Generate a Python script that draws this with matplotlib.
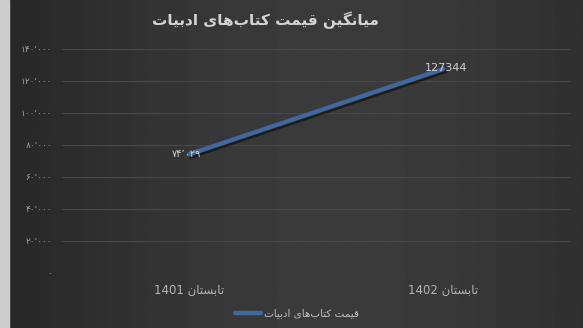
import numpy as np
import matplotlib
matplotlib.use("Agg")
import matplotlib.pyplot as plt
import matplotlib.patheffects as pe
from matplotlib.lines import Line2D

# data
seasons = ["تابستان", "تابستان"]
years = ["1401", "1402"]
prices = [74029, 127344]
price_labels = ["۷۴٬۰۲۹", "127344"]
yticks = [0, 20000, 40000, 60000, 80000, 100000, 120000, 140000]
ytick_labels = ["۰", "۲۰٬۰۰۰", "۴۰٬۰۰۰", "۶۰٬۰۰۰", "۸۰٬۰۰۰",
                "۱۰۰٬۰۰۰", "۱۲۰٬۰۰۰", "۱۴۰٬۰۰۰"]
title = "میانگین قیمت کتاب\u200cهای ادبیات"
series_name = "قیمت کتاب\u200cهای ادبیات"

# minimal arabic shaping: isolated, final, initial, medial
FORMS = {
    "ا": ("\uFE8D", "\uFE8E", None, None),
    "ب": ("\uFE8F", "\uFE90", "\uFE91", "\uFE92"),
    "ت": ("\uFE95", "\uFE96", "\uFE97", "\uFE98"),
    "د": ("\uFEA9", "\uFEAA", None, None),
    "س": ("\uFEB1", "\uFEB2", "\uFEB3", "\uFEB4"),
    "ق": ("\uFED5", "\uFED6", "\uFED7", "\uFED8"),
    "م": ("\uFEE1", "\uFEE2", "\uFEE3", "\uFEE4"),
    "ن": ("\uFEE5", "\uFEE6", "\uFEE7", "\uFEE8"),
    "ه": ("\uFEE9", "\uFEEA", "\uFEEB", "\uFEEC"),
    "ی": ("\uFBFC", "\uFBFD", "\uFBFE", "\uFBFF"),
    "ک": ("\uFB8E", "\uFB8F", "\uFB90", "\uFB91"),
    "گ": ("\uFB92", "\uFB93", "\uFB94", "\uFB95"),
}


def shape(text):
    out = []
    for i, c in enumerate(text):
        if c not in FORMS:
            if c != "\u200c":
                out.append(c)
            continue
        prev = text[i - 1] if i > 0 else None
        nxt = text[i + 1] if i < len(text) - 1 else None
        jp = prev in FORMS and FORMS[prev][2] is not None
        jn = nxt in FORMS and FORMS[c][2] is not None
        iso, fin, ini, med = FORMS[c]
        if jp and jn:
            out.append(med)
        elif jp:
            out.append(fin)
        elif jn:
            out.append(ini)
        else:
            out.append(iso)
    return "".join(reversed(out))


plt.rcParams["font.family"] = ["DejaVu Sans"]

fig = plt.figure(figsize=(5.83, 3.28), dpi=100)

# background gradient
bg = fig.add_axes([0, 0, 1, 1], zorder=-10)
grad = np.linspace(0, 1, 300)
row = 0.15 + 0.08 * np.sin(np.pi * grad * 0.85)
img = np.tile(row, (50, 1))
bg.imshow(img, cmap="gray", vmin=0, vmax=1, aspect="auto", extent=[0, 1, 0, 1])
bg.add_patch(plt.Rectangle((0, 0), 9 / 583, 1, color="#cdcdcd", zorder=5))
bg.set_xlim(0, 1)
bg.set_ylim(0, 1)
bg.axis("off")

ax = fig.add_axes([0.106, 0.168, 0.872, 0.683])
ax.patch.set_alpha(0)
x = np.arange(len(prices))
ax.plot(x, prices, color="#41679f", lw=3.2, solid_capstyle="round",
        path_effects=[pe.SimpleLineShadow(offset=(1.5, -1.5), shadow_color="black", alpha=0.5),
                      pe.Normal()])

ax.set_xlim(-0.5, 1.5)
ax.set_ylim(0, 140000)
ax.set_yticks(yticks)
ax.set_yticklabels(ytick_labels)
ax.set_xticks(x)
ax.set_xticklabels([y + " " + shape(s) for s, y in zip(seasons, years)])
ax.tick_params(axis="y", length=0, pad=7, labelsize=6.5, labelcolor="#a5a5a5")
ax.tick_params(axis="x", length=0, pad=8, labelsize=8.5, labelcolor="#b5b5b5")
ax.grid(axis="y", color="#484848", lw=0.8)
for s in ax.spines.values():
    s.set_visible(False)

ax.annotate(price_labels[0], (x[0], prices[0]), xytext=(-2, 0), textcoords="offset points",
            ha="center", va="center", fontsize=7, color="#d0d0d0")
ax.annotate(price_labels[1], (x[1], prices[1]), xytext=(2, 1), textcoords="offset points",
            ha="center", va="center", fontsize=8, color="#d0d0d0")

fig.text(0.456, 0.938, shape(title), ha="center", va="center", fontsize=11,
         fontweight="bold", color="#d4d4d4")

handle = Line2D([], [], color="#41679f", lw=3.2, solid_capstyle="round")
fig.legend([handle], [shape(series_name)], loc="center", bbox_to_anchor=(0.51, 0.045),
           frameon=False, fontsize=7.5, labelcolor="#c0c0c0", handlelength=2.5,
           handletextpad=0.3)

fig.savefig("out.png", dpi=100, facecolor="#2e2e2e")
